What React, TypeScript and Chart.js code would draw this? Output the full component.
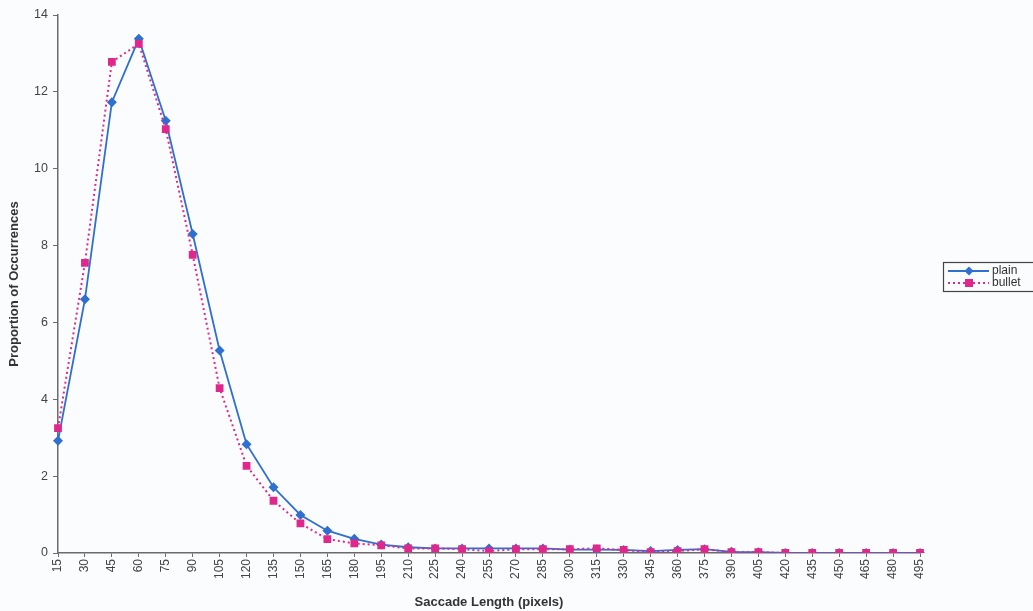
import React, { useEffect, useRef } from "react";
import { Chart, registerables } from "chart.js";

Chart.register(...registerables);

const categories: string[] = [
  "15", "30", "45", "60", "75", "90", "105", "120", "135", "150", "165",
  "180", "195", "210", "225", "240", "255", "270", "285", "300", "315", "330",
  "345", "360", "375", "390", "405", "420", "435", "450", "465", "480", "495",
];

const plainValues: number[] = [
  2.92, 6.6, 11.73, 13.38, 11.25, 8.3, 5.27, 2.83, 1.71, 0.99, 0.58,
  0.37, 0.22, 0.15, 0.12, 0.12, 0.12, 0.12, 0.12, 0.09, 0.09, 0.08,
  0.05, 0.08, 0.1, 0.03, 0.02, 0.0, 0.0, 0.0, 0.0, 0.0, 0.0,
];

const bulletValues: number[] = [
  3.25, 7.55, 12.78, 13.25, 11.03, 7.76, 4.29, 2.27, 1.36, 0.77, 0.36,
  0.25, 0.2, 0.12, 0.12, 0.1, 0.05, 0.1, 0.1, 0.1, 0.12, 0.08,
  0.02, 0.05, 0.1, 0.02, 0.02, 0.0, 0.0, 0.0, 0.0, 0.0, 0.0,
];

const seriesNames: string[] = ["plain", "bullet"];
const yTicks: number[] = [0, 2, 4, 6, 8, 10, 12, 14];

const BLUE = "#2f6fd0";
const MAGENTA = "#e0288c";
const AXIS = "#6b6b6b";
const FONT = "'Liberation Sans', Arial, sans-serif";

const bgPlugin = {
  id: "bg",
  beforeDraw(chart: any) {
    const { ctx, width, height } = chart;
    ctx.save();
    ctx.fillStyle = "#fbfcfe";
    ctx.fillRect(0, 0, width, height);
    ctx.restore();
  },
};

const legendPlugin = {
  id: "customLegend",
  afterDraw(chart: any) {
    const ctx = chart.ctx;
    ctx.save();
    const x0 = 943;
    const y0 = 262;
    ctx.strokeStyle = "#444";
    ctx.lineWidth = 1.2;
    ctx.strokeRect(x0 + 0.5, y0 + 0.5, 110, 29);
    const rows = [
      { name: seriesNames[0], color: BLUE, dash: [] as number[], y: y0 + 9, style: "diamond" },
      { name: seriesNames[1], color: MAGENTA, dash: [2, 3], y: y0 + 21, style: "square" },
    ];
    rows.forEach((r) => {
      ctx.beginPath();
      ctx.setLineDash(r.dash);
      ctx.strokeStyle = r.color;
      ctx.lineWidth = r.style === "square" ? 2 : 1.8;
      ctx.moveTo(948, r.y);
      ctx.lineTo(989, r.y);
      ctx.stroke();
      ctx.setLineDash([]);
      ctx.fillStyle = r.color;
      ctx.beginPath();
      if (r.style === "diamond") {
        ctx.moveTo(969, r.y - 4.5);
        ctx.lineTo(973.5, r.y);
        ctx.lineTo(969, r.y + 4.5);
        ctx.lineTo(964.5, r.y);
        ctx.closePath();
        ctx.fill();
      } else {
        ctx.fillRect(965, r.y - 4, 8, 8);
      }
      ctx.fillStyle = "#333";
      ctx.font = `12px ${FONT}`;
      ctx.textBaseline = "middle";
      ctx.textAlign = "left";
      ctx.fillText(r.name, 992, r.y);
    });
    ctx.restore();
  },
};

export default function App() {
  const canvasRef = useRef<HTMLCanvasElement | null>(null);

  useEffect(() => {
    document.body.style.margin = "0";
    const canvas = canvasRef.current;
    if (!canvas) return;
    const chart = new Chart(canvas, {
      type: "line",
      data: {
        labels: categories,
        datasets: [
          {
            label: seriesNames[0],
            data: plainValues,
            borderColor: BLUE,
            backgroundColor: BLUE,
            borderWidth: 1.8,
            pointStyle: "rectRot",
            pointRadius: 5,
            pointBorderWidth: 0,
            tension: 0,
            order: 1,
          },
          {
            label: seriesNames[1],
            data: bulletValues,
            borderColor: MAGENTA,
            backgroundColor: MAGENTA,
            borderWidth: 2,
            borderDash: [2, 3],
            pointStyle: "rect",
            pointRadius: 5.5,
            pointBorderWidth: 0,
            tension: 0,
            order: 0,
          },
        ],
      },
      options: {
        animation: false,
        responsive: false,
        maintainAspectRatio: false,
        layout: { padding: { left: 0, right: 113, top: 15, bottom: 0 } },
        plugins: {
          legend: { display: false },
          tooltip: { enabled: false },
        },
        scales: {
          x: {
            offset: false,
            afterFit(scale: any) {
              scale.height = 58;
            },
            grid: {
              drawOnChartArea: false,
              drawTicks: true,
              tickLength: 4,
              color: AXIS,
            },
            border: { display: true, color: AXIS, width: 1.5 },
            ticks: {
              autoSkip: false,
              minRotation: 90,
              maxRotation: 90,
              padding: 2,
              color: "#444",
              font: { family: FONT, size: 12 },
            },
            title: {
              display: true,
              text: "Saccade Length (pixels)",
              color: "#333",
              font: { family: FONT, size: 13, weight: "bold" },
              padding: { top: 0, bottom: 1 },
            },
          },
          y: {
            min: 0,
            max: 14,
            afterFit(scale: any) {
              scale.width = 58;
            },
            afterBuildTicks(scale: any) {
              scale.ticks = yTicks.map((v) => ({ value: v }));
            },
            grid: {
              drawOnChartArea: false,
              drawTicks: true,
              tickLength: 5,
              color: AXIS,
            },
            border: { display: true, color: AXIS, width: 1.5 },
            ticks: {
              padding: 5,
              color: "#444",
              font: { family: FONT, size: 12.5 },
            },
            title: {
              display: true,
              text: "Proportion of Occurrences",
              color: "#333",
              font: { family: FONT, size: 13, weight: "bold" },
              padding: { top: 7, bottom: 0 },
            },
          },
        },
      },
      plugins: [bgPlugin, legendPlugin],
    });
    return () => chart.destroy();
  }, []);

  return (
    <div style={{ position: "fixed", left: 0, top: 0, width: 1033, height: 611 }}>
      <canvas ref={canvasRef} width={1033} height={611} style={{ width: 1033, height: 611 }} />
    </div>
  );
}
